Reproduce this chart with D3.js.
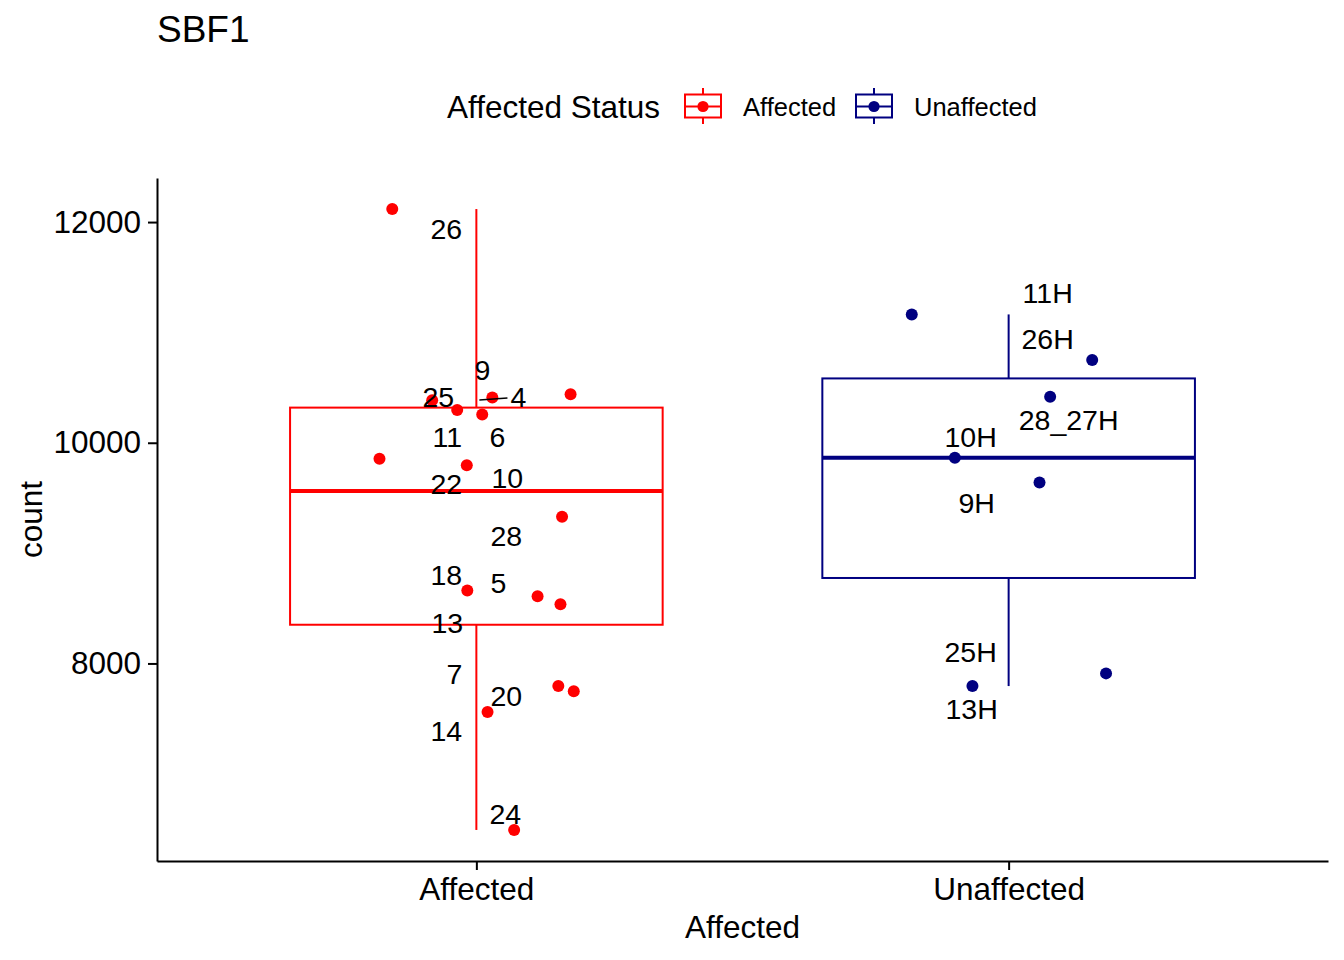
<!DOCTYPE html>
<html>
<head>
<meta charset="utf-8">
<script src="https://cdn.jsdelivr.net/npm/d3@7"></script>
<style>
  html, body { margin: 0; padding: 0; background: #fff; }
  svg { display: block; }
</style>
</head>
<body>
<div id="chart"></div>
<script>
(function () {
  "use strict";

  var categories = ["Affected", "Unaffected"];

  var affectedIds    = ["26", "9", "25", "4", "11", "6", "10", "22", "28", "18", "5", "13", "7", "20", "14", "24"];
  var affectedCounts = [12118, 10440, 10410, 10386, 10296, 10257, 9855, 9796, 9329, 8660, 8608, 8536, 7795, 7747, 7560, 6491];

  var unaffectedIds    = ["11H", "26H", "28_27H", "10H", "9H", "25H", "13H"];
  var unaffectedCounts = [11163, 10750, 10416, 9864, 9639, 7910, 7795];

  var yTicks = [8000, 10000, 12000];

  // horizontal jitter of each point, as a fraction of one category step
  var affectedJitter   = [-0.158, 0.177, 0.030, -0.083, -0.036, 0.011, -0.182, -0.018, 0.161, -0.017, 0.115, 0.158, 0.154, 0.183, 0.021, 0.071];
  var unaffectedJitter = [-0.182, 0.157, 0.078, -0.101, 0.058, 0.183, -0.068];

  // repelled label offsets (px) from the un-jittered point
  var affectedNudge = [[-30, 20], [6, -24], [-38, 0], [42, -3], [-29, 27], [21, 23], [31, 19], [-30, 19],
                       [30, 19], [-30, -16], [22, -13], [-29, 19], [-22, -12], [30, 5], [-30, 19], [29, -16]];
  var unaffectedNudge = [[39, -21], [39, -21], [60, 23], [-38, -21], [-32, 20], [-38, -21], [-37, 23]];
  var segmentIds = ["4"];

  var COLORS = { Affected: "#ff0000", Unaffected: "#000080" };
  var FONT = "'Liberation Sans', Arial, Helvetica, sans-serif";

  var groups = [
    { key: "Affected",   ids: affectedIds,   counts: affectedCounts,   jitter: affectedJitter,   nudge: affectedNudge },
    { key: "Unaffected", ids: unaffectedIds, counts: unaffectedCounts, jitter: unaffectedJitter, nudge: unaffectedNudge }
  ];

  var W = 1344, H = 960;
  var left = 157, right = 1328, top = 178, bottom = 861;

  var svg = d3.select("#chart").append("svg")
    .attr("width", W).attr("height", H)
    .style("font-family", FONT);

  var all = affectedCounts.concat(unaffectedCounts);
  var ext = d3.extent(all);
  var pad = (ext[1] - ext[0]) * 0.05;

  var y = d3.scaleLinear().domain([ext[0] - pad, ext[1] + pad]).range([bottom, top]);
  var x = d3.scalePoint().domain(categories).range([left, right]).padding(0.6);
  var step = x.step();
  var boxW = step * 0.7;

  // title
  svg.append("text")
    .attr("x", 157).attr("y", 42)
    .attr("font-size", "37px").attr("fill", "#000")
    .text("SBF1");

  // legend
  var leg = svg.append("g");
  leg.append("text")
    .attr("x", 447).attr("y", 118)
    .attr("font-size", "31.5px").attr("fill", "#000")
    .text("Affected Status");

  var keyX = [685, 856];
  var textX = [743, 914];
  categories.forEach(function (c, i) {
    var k = leg.append("g").attr("transform", "translate(" + keyX[i] + ",0)");
    var col = COLORS[c];
    k.append("line").attr("x1", 18).attr("x2", 18).attr("y1", 88).attr("y2", 124)
      .attr("stroke", col).attr("stroke-width", 2);
    k.append("rect").attr("x", 0).attr("y", 94.5).attr("width", 36).attr("height", 23)
      .attr("fill", "#fff").attr("stroke", col).attr("stroke-width", 2);
    k.append("line").attr("x1", 0).attr("x2", 36).attr("y1", 106.5).attr("y2", 106.5)
      .attr("stroke", col).attr("stroke-width", 2);
    k.append("circle").attr("cx", 18).attr("cy", 106.5).attr("r", 5.6).attr("fill", col);
    leg.append("text")
      .attr("x", textX[i]).attr("y", 116)
      .attr("font-size", "25.5px").attr("fill", "#000")
      .text(c);
  });

  // boxes
  groups.forEach(function (g) {
    var s = g.counts.slice().sort(d3.ascending);
    var q1 = d3.quantile(s, 0.25), med = d3.quantile(s, 0.5), q3 = d3.quantile(s, 0.75);
    var iqr = q3 - q1;
    var lo = d3.min(s.filter(function (v) { return v >= q1 - 1.5 * iqr; }));
    var hi = d3.max(s.filter(function (v) { return v <= q3 + 1.5 * iqr; }));
    var cx = x(g.key), col = COLORS[g.key];

    var bx = svg.append("g");
    bx.append("line").attr("x1", cx).attr("x2", cx).attr("y1", y(q3)).attr("y2", y(hi))
      .attr("stroke", col).attr("stroke-width", 2);
    bx.append("line").attr("x1", cx).attr("x2", cx).attr("y1", y(q1)).attr("y2", y(lo))
      .attr("stroke", col).attr("stroke-width", 2);
    bx.append("rect")
      .attr("x", cx - boxW / 2).attr("y", y(q3))
      .attr("width", boxW).attr("height", y(q1) - y(q3))
      .attr("fill", "#fff").attr("stroke", col).attr("stroke-width", 2);
    bx.append("line").attr("x1", cx - boxW / 2).attr("x2", cx + boxW / 2)
      .attr("y1", y(med)).attr("y2", y(med))
      .attr("stroke", col).attr("stroke-width", 4);
  });

  // axes
  var yAxis = svg.append("g")
    .attr("transform", "translate(" + left + ",0)")
    .call(d3.axisLeft(y).tickValues(yTicks).tickFormat(d3.format("d"))
      .tickSize(9).tickPadding(7).tickSizeOuter(0));
  var xAxis = svg.append("g")
    .attr("transform", "translate(0," + bottom + ")")
    .call(d3.axisBottom(x).tickSize(9).tickPadding(8).tickSizeOuter(0));

  [yAxis, xAxis].forEach(function (a) {
    a.attr("font-family", FONT).attr("font-size", "31.5px");
    a.select(".domain").attr("stroke", "#000").attr("stroke-width", 2);
    a.selectAll(".tick line").attr("stroke", "#000").attr("stroke-width", 2);
    a.selectAll(".tick text").attr("fill", "#000");
  });

  svg.append("text")
    .attr("x", (left + right) / 2).attr("y", 938)
    .attr("text-anchor", "middle")
    .attr("font-size", "31.5px").attr("fill", "#000")
    .text("Affected");

  svg.append("text")
    .attr("transform", "translate(41.5," + (top + bottom) / 2 + ") rotate(-90)")
    .attr("text-anchor", "middle")
    .attr("font-size", "31.5px").attr("fill", "#000")
    .text("count");

  // jittered points
  groups.forEach(function (g) {
    var cx = x(g.key);
    svg.append("g").selectAll("circle")
      .data(g.counts)
      .join("circle")
        .attr("cx", function (d, i) { return cx + g.jitter[i] * step; })
        .attr("cy", function (d) { return y(d); })
        .attr("r", 6)
        .attr("fill", COLORS[g.key]);
  });

  // labels
  groups.forEach(function (g) {
    var cx = x(g.key);
    var lg = svg.append("g");
    g.counts.forEach(function (d, i) {
      var ax = cx, ay = y(d);
      var lx = ax + g.nudge[i][0], ly = ay + g.nudge[i][1];
      var t = lg.append("text")
        .attr("x", lx).attr("y", ly).attr("dy", "0.35em")
        .attr("text-anchor", "middle")
        .attr("font-size", "28.5px").attr("fill", "#000")
        .text(g.ids[i]);

      if (segmentIds.indexOf(g.ids[i]) >= 0) {
        var bb = t.node().getBBox();
        var x0 = bb.x - 3, x1 = bb.x + bb.width + 3;
        var y0 = bb.y + 4, y1 = bb.y + bb.height - 4;
        var dx = lx - ax, dy = ly - ay;
        // entry of the ray from the point into the label box
        var tx = dx > 0 ? (x0 - ax) / dx : dx < 0 ? (x1 - ax) / dx : -Infinity;
        var ty = dy > 0 ? (y0 - ay) / dy : dy < 0 ? (y1 - ay) / dy : -Infinity;
        var tt = Math.max(tx, ty, 0);
        var len = Math.sqrt(dx * dx + dy * dy);
        var t0 = 3 / len;
        lg.append("line")
          .attr("x1", ax + dx * t0).attr("y1", ay + dy * t0)
          .attr("x2", ax + dx * tt).attr("y2", ay + dy * tt)
          .attr("stroke", "#000").attr("stroke-width", 1.6);
      }
    });
  });
}());
</script>
</body>
</html>
